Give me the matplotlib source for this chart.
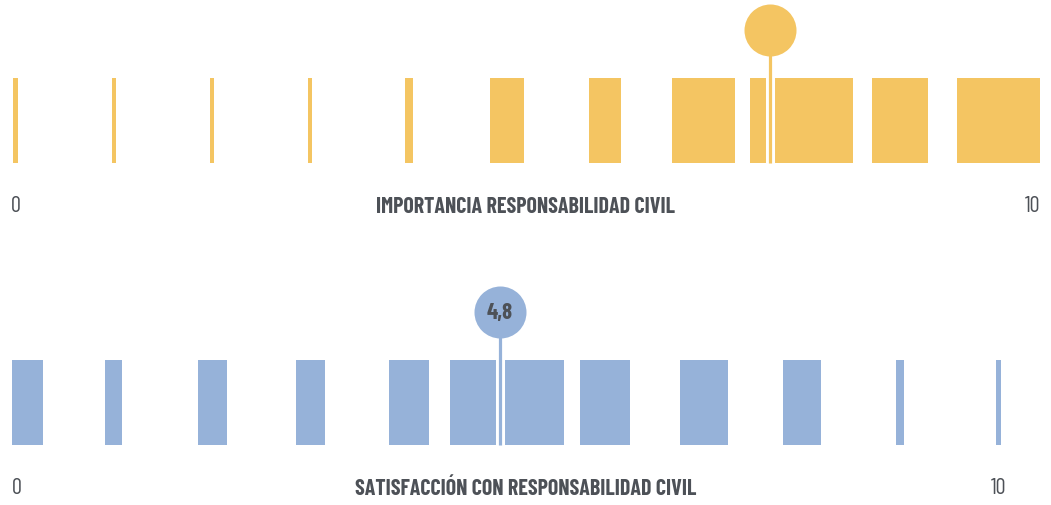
import matplotlib.pyplot as plt
import matplotlib.patheffects as pe

# valores (porcentaje de respuestas por nota 0-10)
notas = list(range(11))
importancia_pct = [1.1, 1.0, 1.0, 1.0, 2.0, 8.6, 8.1, 15.9, 26.1, 14.2, 21.1]
satisfaccion_pct = [8.1, 4.3, 7.3, 7.3, 10.1, 28.9, 12.7, 12.2, 9.6, 2.1, 1.2]
media_pos = [7.68, 4.93]
media_txt = ["", "4,8"]
titulos = ["IMPORTANCIA RESPONSABILIDAD CIVIL", "SATISFACCIÓN CON RESPONSABILIDAD CIVIL"]
extremos = ["0", "10"]

AMARILLO = "#F4C562"
AZUL = "#96B2D9"
GRIS = "#4D5157"
FUENTE = ["Barlow Condensed", "DejaVu Sans"]

W, H = 1051, 506
PX0, PX_UNIT = 15.5, 98.3          # pixel of nota 0, pixels per nota
PCT_W = 3.95 / PX_UNIT              # bar width (in notas) per percent
X_MIN = (11.5 - PX0) / PX_UNIT      # bars never start left of this

fig = plt.figure(figsize=(W / 100, H / 100), dpi=100)
ax = fig.add_axes([0, 0, 1, 1])
ax.set_xlim(-PX0 / PX_UNIT, (W - PX0) / PX_UNIT)
ax.set_ylim(H, 0)
ax.axis("off")

filas = [
    (importancia_pct, AMARILLO, 79, 164, 31.3, 207),
    (satisfaccion_pct, AZUL, 361, 446, 313.3, 489),
]

for i, (pct, color, y_top, y_bot, y_circ, y_txt) in enumerate(filas):
    widths = [p * PCT_W for p in pct]
    lefts = [max(n - w / 2, X_MIN) for n, w in zip(notas, widths)]
    ax.bar(lefts, y_bot - y_top, width=widths, bottom=y_top, align="edge",
           color=color, linewidth=0)

    # marcador de la media
    ax.plot([media_pos[i], media_pos[i]], [y_circ, y_bot], color=color, lw=2.3,
            solid_capstyle="butt", zorder=3,
            path_effects=[pe.Stroke(linewidth=6.5, foreground="white"), pe.Normal()])
    ax.scatter([media_pos[i]], [y_circ], s=1402, color=color, linewidths=0, zorder=4)
    if media_txt[i]:
        ax.text(media_pos[i], y_circ, media_txt[i], ha="center", va="center",
                fontsize=16.5, fontweight="bold", color=GRIS, family=FUENTE, zorder=5)

    # textos del eje
    ax.text(W / 2 / PX_UNIT - PX0 / PX_UNIT, y_txt, titulos[i], ha="center", va="center",
            fontsize=15.8, fontweight="bold", color=GRIS, family=FUENTE)
    lbl_w = 8 / PX_UNIT
    kw = dict(va="center", fontsize=16, fontweight="normal", color=GRIS, family=FUENTE)
    if widths[0] > lbl_w:
        ax.text(lefts[0], y_txt, extremos[0], ha="left", **kw)
    else:
        ax.text(lefts[0] + widths[0] / 2, y_txt, extremos[0], ha="center", **kw)
    if widths[-1] > 2 * lbl_w:
        ax.text(lefts[-1] + widths[-1], y_txt, extremos[1], ha="right", **kw)
    else:
        ax.text(lefts[-1] + widths[-1] / 2, y_txt, extremos[1], ha="center", **kw)

fig.savefig("out.png", dpi=100)
